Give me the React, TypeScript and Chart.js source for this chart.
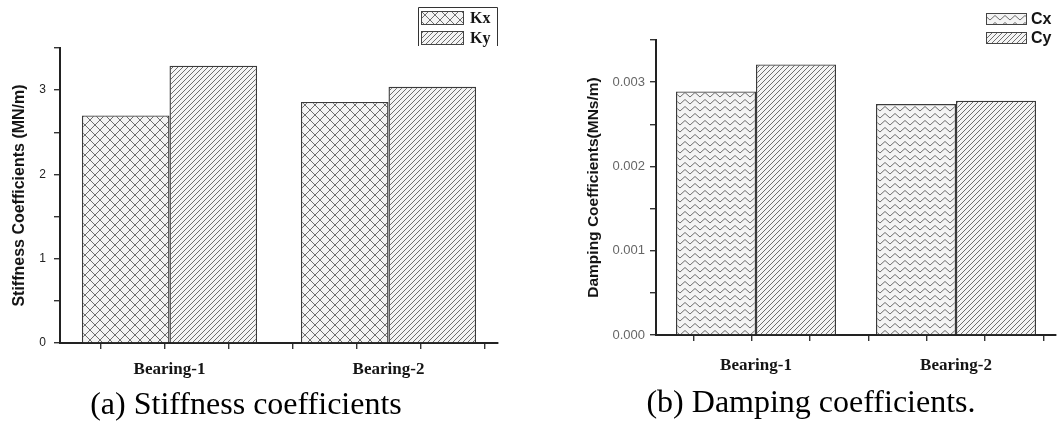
import React, { useEffect, useRef } from 'react';
import { Chart, registerables } from 'chart.js';

Chart.register(...registerables);

// ---------- data ----------
const categories = ['Bearing-1', 'Bearing-2'];
const kxValues = [2.7, 2.86];
const kyValues = [3.29, 3.04];
const cxValues = [0.00289, 0.00274];
const cyValues = [0.00321, 0.00278];
const stiffnessSeriesLabels = ['Kx', 'Ky'];
const dampingSeriesLabels = ['Cx', 'Cy'];
const stiffnessTickLabels = ['0', '1', '2', '3'];
const dampingTickLabels = ['0.000', '0.001', '0.002', '0.003'];
const stiffnessMax = 3.5;
const stiffnessStep = 0.5;
const dampingMax = 0.0035;
const dampingStep = 0.0005;
const xMinorTickValues = [0, 1, 2, 3, 4, 5];
const xMinorMin = -0.571;
const xMinorMax = 5.143;

// ---------- patterns ----------
function makePattern(kind: string): CanvasPattern | string {
  const c = document.createElement('canvas');
  let w = 10;
  let h = 10;
  if (kind === 'diag') { w = 5; h = 5; }
  if (kind === 'zigzag') { w = 10; h = 7; }
  c.width = w;
  c.height = h;
  const ctx = c.getContext('2d');
  if (!ctx) return '#ddd';
  ctx.fillStyle = '#f4f4f4';
  ctx.fillRect(0, 0, w, h);
  ctx.strokeStyle = '#6e6e6e';
  ctx.lineWidth = 1;
  ctx.beginPath();
  if (kind === 'diamond') {
    ctx.moveTo(0, 0); ctx.lineTo(w, h);
    ctx.moveTo(0, h); ctx.lineTo(w, 0);
  } else if (kind === 'diag') {
    ctx.moveTo(-1, 1); ctx.lineTo(1, -1);
    ctx.moveTo(0, h); ctx.lineTo(w, 0);
    ctx.moveTo(w - 1, h + 1); ctx.lineTo(w + 1, h - 1);
  } else {
    ctx.moveTo(0, 6); ctx.lineTo(w / 2, 1.5); ctx.lineTo(w, 6);
  }
  ctx.stroke();
  const p = ctx.createPattern(c, 'repeat');
  return p || '#ddd';
}

// ---------- legend plugin ----------
const patternLegend = {
  id: 'patternLegend',
  afterDraw(chart: any, _args: any, opts: any) {
    const ctx = chart.ctx as CanvasRenderingContext2D;
    ctx.save();
    chart.data.datasets.forEach((ds: any, i: number) => {
      const y = opts.y + i * opts.rowGap;
      ctx.fillStyle = ds.backgroundColor;
      ctx.fillRect(opts.x, y, opts.boxW, opts.boxH);
      ctx.strokeStyle = '#444';
      ctx.lineWidth = 1;
      ctx.strokeRect(opts.x + 0.5, y + 0.5, opts.boxW, opts.boxH);
      ctx.font = opts.font;
      ctx.fillStyle = '#151515';
      ctx.textBaseline = 'middle';
      ctx.textAlign = 'left';
      ctx.fillText(ds.label, opts.x + opts.boxW + opts.textGap, y + opts.boxH / 2 + 1);
    });
    if (opts.frame) {
      const f = opts.frame;
      ctx.strokeStyle = '#333';
      ctx.lineWidth = 1;
      ctx.beginPath();
      ctx.moveTo(f.left + 0.5, f.bottom);
      ctx.lineTo(f.left + 0.5, f.top + 0.5);
      ctx.lineTo(f.right + 0.5, f.top + 0.5);
      ctx.lineTo(f.right + 0.5, f.bottom);
      ctx.stroke();
    }
    ctx.restore();
  },
};

type Spec = {
  width: number;
  height: number;
  area: { left: number; right: number; top: number; bottom: number };
  seriesLabels: string[];
  series: number[][];
  patterns: string[];
  yMax: number;
  yStep: number;
  tickLabels: string[];
  tickFont: number;
  tickColor: string;
  tickPad: number;
  yTitle: string;
  yTitleSize: number;
  yTitlePad: number;
  xLabelPad: number;
  xLabelFont: string;
  legend: any;
};

function buildConfig(spec: Spec): any {
  const { width, height, area } = spec;
  return {
    type: 'bar',
    data: {
      labels: categories,
      datasets: spec.series.map((vals, i) => ({
        label: spec.seriesLabels[i],
        data: vals,
        backgroundColor: makePattern(spec.patterns[i]),
        borderColor: '#3a3a3a',
        borderWidth: 1.4,
        categoryPercentage: 0.8,
        barPercentage: 1.0,
      })),
    },
    plugins: [patternLegend],
    options: {
      responsive: false,
      animation: false,
      devicePixelRatio: 1,
      layout: { padding: { top: area.top, left: 0, right: width - area.right, bottom: 0 } },
      plugins: {
        legend: { display: false },
        tooltip: { enabled: false },
        patternLegend: spec.legend,
      },
      scales: {
        x: {
          type: 'category',
          position: 'bottom',
          weight: 1,
          offset: true,
          border: { display: false },
          grid: { display: false, drawTicks: false },
          ticks: {
            padding: spec.xLabelPad,
            color: '#151515',
            font: { family: spec.xLabelFont, size: 17, weight: 'bold' },
            maxRotation: 0,
          },
          afterFit: (s: any) => { s.height = height - area.bottom - 6; },
        },
        x2: {
          type: 'linear',
          position: 'bottom',
          weight: 0,
          min: xMinorMin,
          max: xMinorMax,
          afterBuildTicks: (s: any) => { s.ticks = xMinorTickValues.map((v) => ({ value: v })); },
          ticks: { display: false },
          grid: { drawOnChartArea: false, drawTicks: true, tickLength: 6, color: '#333', lineWidth: 1.4 },
          border: { display: true, color: '#222', width: 2 },
          afterFit: (s: any) => { s.height = 6; },
        },
        y: {
          type: 'linear',
          position: 'left',
          min: 0,
          max: spec.yMax,
          border: { display: true, color: '#222', width: 2 },
          grid: { drawOnChartArea: false, drawTicks: true, tickLength: 6, color: '#333', lineWidth: 1.4 },
          ticks: {
            stepSize: spec.yStep,
            padding: spec.tickPad,
            color: spec.tickColor,
            font: { family: '"Liberation Sans", Arial, sans-serif', size: spec.tickFont },
            callback: (_v: any, i: number) => (i % 2 === 0 ? spec.tickLabels[i / 2] ?? '' : ''),
          },
          title: {
            display: true,
            text: spec.yTitle,
            color: '#151515',
            padding: { top: spec.yTitlePad, bottom: 0 },
            font: { family: '"Liberation Sans", Arial, sans-serif', size: spec.yTitleSize, weight: 'bold' },
          },
          afterFit: (s: any) => { s.width = area.left; },
        },
      },
    },
  };
}

function Panel({ spec, left }: { spec: Spec; left: number }) {
  const ref = useRef<HTMLCanvasElement | null>(null);
  useEffect(() => {
    if (!ref.current) return;
    const chart = new Chart(ref.current, buildConfig(spec));
    return () => chart.destroy();
  }, []);
  return (
    <canvas
      ref={ref}
      width={spec.width}
      height={spec.height}
      style={{ position: 'absolute', left, top: 0, width: spec.width, height: spec.height }}
    />
  );
}

const stiffnessSpec: Spec = {
  width: 530,
  height: 426,
  area: { left: 60, right: 498, top: 48, bottom: 343 },
  seriesLabels: stiffnessSeriesLabels,
  series: [kxValues, kyValues],
  patterns: ['diamond', 'diag'],
  yMax: stiffnessMax,
  yStep: stiffnessStep,
  tickLabels: stiffnessTickLabels,
  tickFont: 12,
  tickColor: '#222',
  tickPad: 8,
  yTitle: 'Stiffness Coefficients (MN/m)',
  yTitleSize: 16,
  yTitlePad: 10,
  xLabelPad: 10,
  xLabelFont: '"Liberation Serif", "Times New Roman", serif',
  legend: {
    x: 421, y: 11, boxW: 42, boxH: 13, rowGap: 20, textGap: 7,
    font: 'bold 16px "Liberation Serif", serif',
    frame: { left: 418, right: 497, top: 7, bottom: 46 },
  },
};

const dampingSpec: Spec = {
  width: 528,
  height: 426,
  area: { left: 126, right: 526, top: 40, bottom: 335 },
  seriesLabels: dampingSeriesLabels,
  series: [cxValues, cyValues],
  patterns: ['zigzag', 'diag'],
  yMax: dampingMax,
  yStep: dampingStep,
  tickLabels: dampingTickLabels,
  tickFont: 13,
  tickColor: '#666',
  tickPad: 5,
  yTitle: 'Damping Coefficients(MNs/m)',
  yTitleSize: 15.5,
  yTitlePad: 54,
  xLabelPad: 14,
  xLabelFont: '"Liberation Serif", "Times New Roman", serif',
  legend: {
    x: 456, y: 13, boxW: 40, boxH: 11, rowGap: 19, textGap: 5,
    font: 'bold 16px "Liberation Sans", Arial, sans-serif',
    frame: null,
  },
};

const captionStyle: React.CSSProperties = {
  position: 'absolute',
  top: 387,
  transform: 'translateX(-50%)',
  whiteSpace: 'nowrap',
  fontFamily: '"Liberation Serif", "Times New Roman", serif',
  fontSize: 32,
  lineHeight: '32px',
  color: '#000',
};

export default function App() {
  return (
    <div style={{ position: 'absolute', left: 0, top: 0, width: 1058, height: 426, background: '#fff', overflow: 'hidden' }}>
      <Panel spec={stiffnessSpec} left={0} />
      <Panel spec={dampingSpec} left={530} />
      <div style={{ ...captionStyle, left: 246 }}>(a) Stiffness coefficients</div>
      <div style={{ ...captionStyle, left: 811, top: 385 }}>(b) Damping coefficients.</div>
    </div>
  );
}
